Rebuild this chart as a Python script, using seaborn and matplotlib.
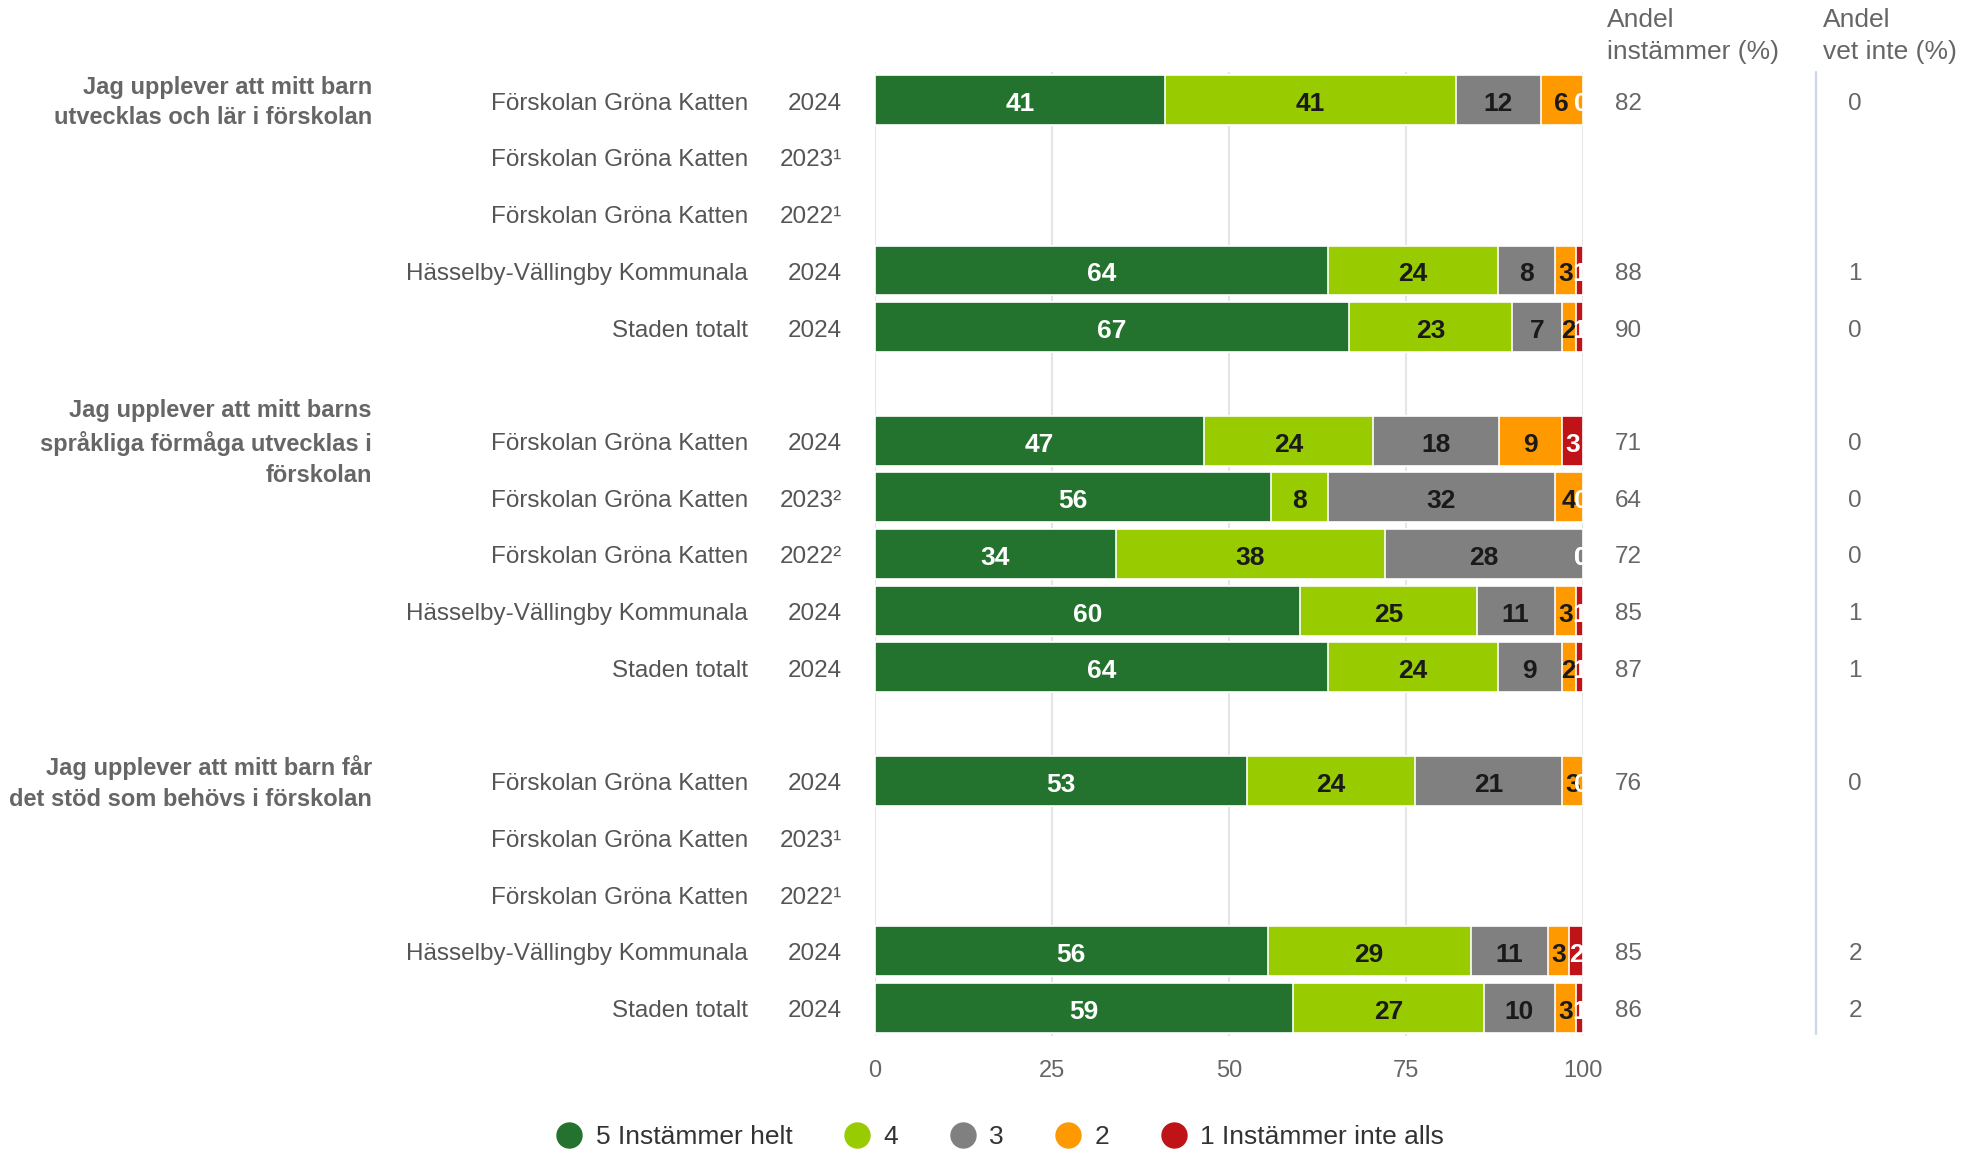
import numpy as np
import pandas as pd
import matplotlib
matplotlib.use("Agg")
import matplotlib.pyplot as plt
import seaborn as sns
from matplotlib.transforms import blended_transform_factory
from matplotlib.lines import Line2D

# ---------------- data ----------------
questions = [
    "Jag upplever att mitt barn\nutvecklas och lär i förskolan",
    "Jag upplever att mitt barns\nspråkliga förmåga utvecklas i\nförskolan",
    "Jag upplever att mitt barn får\ndet stöd som behövs i förskolan",
]
units = ["Förskolan Gröna Katten", "Förskolan Gröna Katten", "Förskolan Gröna Katten",
         "Hässelby-Vällingby Kommunala", "Staden totalt"] * 3
years = ["2024", "2023¹", "2022¹", "2024", "2024",
         "2024", "2023²", "2022²", "2024", "2024",
         "2024", "2023¹", "2022¹", "2024", "2024"]
series_names = ["5 Instämmer helt", "4", "3", "2", "1 Instämmer inte alls"]
s5 = [41, None, None, 64, 67, 47, 56, 34, 60, 64, 53, None, None, 56, 59]
s4 = [41, None, None, 24, 23, 24, 8, 38, 25, 24, 24, None, None, 29, 27]
s3 = [12, None, None, 8, 7, 18, 32, 28, 11, 9, 21, None, None, 11, 10]
s2 = [6, None, None, 3, 2, 9, 4, 0, 3, 2, 3, None, None, 3, 3]
s1 = [0, None, None, 1, 1, 3, 0, 0, 1, 1, 0, None, None, 2, 1]
andel_instammer = [82, None, None, 88, 90, 71, 64, 72, 85, 87, 76, None, None, 85, 86]
andel_vet_inte = [0, None, None, 1, 0, 0, 0, 0, 1, 1, 0, None, None, 2, 2]

colors = ["#23722e", "#99cc00", "#808080", "#ff9900", "#bf1318"]
label_colors = ["white", "#1a1a1a", "#1a1a1a", "#1a1a1a", "white"]

# ---------------- layout helpers ----------------
n_slots = 17
slot_of_row = [g * 6 + r for g in range(3) for r in range(5)]
order = [f"s{i}" for i in range(n_slots)]

rows = []
series = [s5, s4, s3, s2, s1]
for i in range(15):
    if s5[i] is None:
        continue
    vals = [s[i] for s in series]
    tot = sum(vals)
    cum = np.cumsum(vals) / tot * 100
    rec = {"slot": order[slot_of_row[i]], "row": i}
    for k in range(5):
        rec[f"cum{k}"] = cum[k]
        rec[f"v{k}"] = vals[k]
    rows.append(rec)
df = pd.DataFrame(rows)

sns.set_theme(style="white")
plt.rcParams["font.family"] = ["Liberation Sans", "DejaVu Sans"]

W, H = 1965, 1150
fig = plt.figure(figsize=(W / 100, H / 100), dpi=100)
left, right = 875 / W, 1583 / W
top, bottom = 1 - 72 / H, 1 - 1036 / H
ax = fig.add_axes([left, bottom, right - left, top - bottom])

for k in range(4, -1, -1):
    sns.barplot(data=df, x=f"cum{k}", y="slot", order=order, orient="h",
                color=colors[k], saturation=1, width=0.88, errorbar=None,
                edgecolor="white", linewidth=1.2, ax=ax, zorder=2)

ax.set_xlim(0, 100)
ax.set_ylim(n_slots - 0.5, -0.5)
ax.set_xlabel("")
ax.set_ylabel("")
for sp in ax.spines.values():
    sp.set_visible(False)
ax.set_xticks([0, 25, 50, 75, 100])
ax.set_xticklabels(["0", "25", "50", "75", "100"], fontsize=17, color="#666666")
ax.tick_params(axis="x", length=0, pad=17)
ax.grid(axis="x", color="#e6e6e6", linewidth=1.5, zorder=0)
ax.grid(axis="y", visible=False)
ax.set_axisbelow(True)
ax.set_yticks(np.arange(-0.5, n_slots, 1))
ax.set_yticklabels([])
ax.tick_params(axis="y", length=14, width=1.6, color="#ccd6eb", direction="out")

# bar value labels
for _, r in df.iterrows():
    y = order.index(r["slot"]) + 0.07
    prev = 0.0
    for k in range(5):
        c = r[f"cum{k}"]
        v = int(r[f"v{k}"])
        if v == 0:
            ax.text(c - 0.2, y, "0", ha="center", va="center", fontsize=19,
                    fontweight="bold", color="white", zorder=5, clip_on=True)
        else:
            ax.text((prev + c) / 2, y, str(v), ha="center", va="center", fontsize=19,
                    fontweight="bold", color=label_colors[k], zorder=5)
        prev = c

# left labels
tr = blended_transform_factory(fig.transFigure, ax.transData)
for i in range(15):
    y = slot_of_row[i] + 0.06
    fig.text(748 / W, y, units[i], transform=tr, ha="right", va="center",
             fontsize=17.5, color="#555555")
    fig.text(842 / W, y, years[i], transform=tr, ha="right", va="center",
             fontsize=17.5, color="#555555")
    if andel_instammer[i] is not None:
        fig.text(1615 / W, y, str(andel_instammer[i]), transform=tr, ha="left",
                 va="center", fontsize=17.5, color="#666666")
    if andel_vet_inte[i] is not None:
        fig.text(1855 / W, y, str(andel_vet_inte[i]), transform=tr, ha="center",
                 va="center", fontsize=17.5, color="#666666")

for g, q in enumerate(questions):
    fig.text(372 / W, g * 6 + 0.04, q, transform=tr, ha="right", va="center",
             fontsize=17, fontweight="bold", color="#666666", linespacing=1.43)

# right column headers and separator
fig.text(1607 / W, 1 - 8 / H, "Andel\ninstämmer (%)", ha="left", va="top",
         fontsize=19, color="#666666", linespacing=1.42)
fig.text(1823 / W, 1 - 8 / H, "Andel\nvet inte (%)", ha="left", va="top",
         fontsize=19, color="#666666", linespacing=1.42)
fig.add_artist(Line2D([1816 / W, 1816 / W], [1 - 72 / H, 1 - 1034 / H],
                      transform=fig.transFigure, color="#ccd6eb", linewidth=1.6))

# legend
handles = [Line2D([0], [0], marker="o", linestyle="", markersize=18,
                  markerfacecolor=c, markeredgecolor=c) for c in colors]
fig.legend(handles, series_names, loc="lower center", bbox_to_anchor=(0.509, -0.02),
           ncol=5, frameon=False, fontsize=19, handlelength=1.0, handletextpad=0.5,
           columnspacing=1.95, labelcolor="#333333")

fig.savefig("out.png", dpi=100)
